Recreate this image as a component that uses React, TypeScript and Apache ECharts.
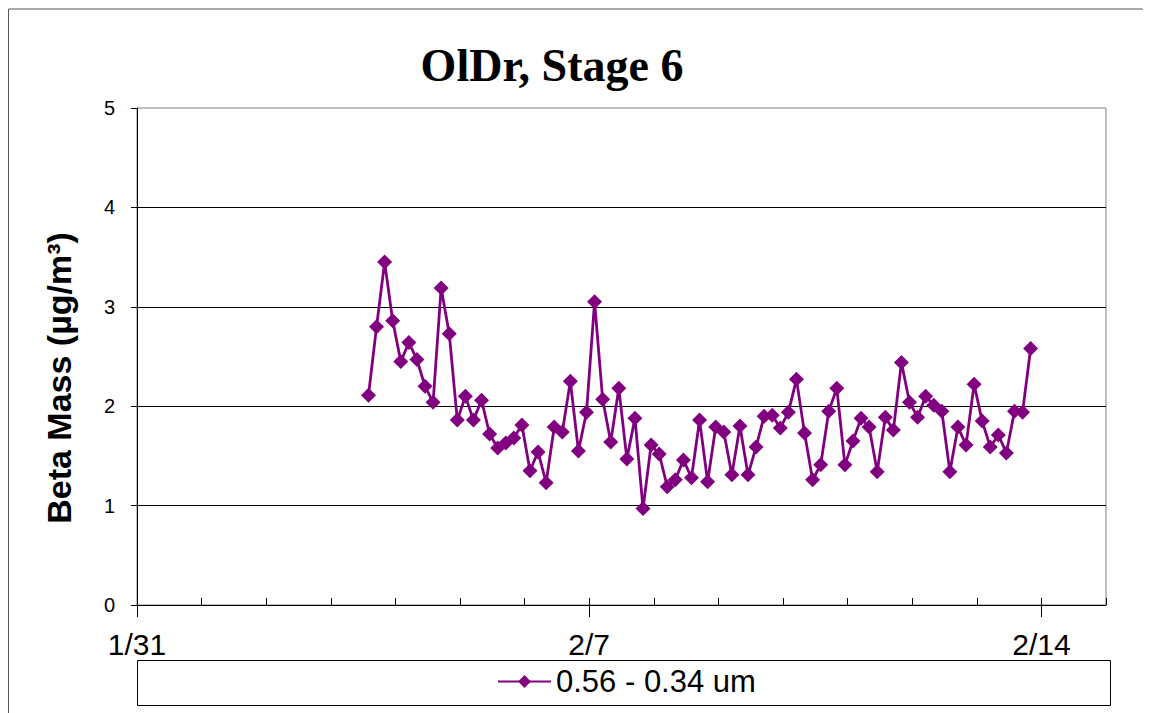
import React, { useEffect, useRef } from "react";
import * as echarts from "echarts";

// Beta mass readings, one every 3 hours, starting 2/3 14:00
const SERIES_NAME = "0.56 - 0.34 um";
const START_DAY_OFFSET = 3 + 14 / 24; // days after 1/31 00:00
const STEP_DAYS = 3 / 24;
const BETA_MASS = [
  2.11, 2.8, 3.45, 2.86, 2.45, 2.64, 2.47, 2.2, 2.04, 3.19,
  2.73, 1.86, 2.1, 1.86, 2.06, 1.72, 1.58, 1.63, 1.68, 1.81,
  1.35, 1.54, 1.23, 1.79, 1.74, 2.25, 1.55, 1.94, 3.05, 2.07,
  1.64, 2.18, 1.47, 1.88, 0.97, 1.61, 1.52, 1.19, 1.26, 1.46,
  1.28, 1.86, 1.24, 1.79, 1.74, 1.31, 1.8, 1.31, 1.59, 1.9,
  1.91, 1.78, 1.94, 2.27, 1.73, 1.26, 1.41, 1.95, 2.18, 1.41,
  1.65, 1.88, 1.79, 1.34, 1.89, 1.76, 2.44, 2.04, 1.89, 2.1,
  2.01, 1.95, 1.34, 1.79, 1.61, 2.22, 1.85, 1.59, 1.71, 1.53,
  1.95, 1.94, 2.58,
];

// Date axis: days after 1/31
const X_MIN = 0;
const X_MAX = 15;
const X_MAJOR_DAYS = [0, 7, 14];
const X_MAJOR_LABELS = ["1/31", "2/7", "2/14"];

const Y_MIN = 0;
const Y_MAX = 5;
const Y_STEP = 1;

const TITLE = "OlDr, Stage 6";
const Y_TITLE = "Beta Mass (µg/m³)";

const W = 1143;
const H = 705;

export default function App() {
  const ref = useRef<HTMLDivElement>(null);

  useEffect(() => {
    if (!ref.current) return;
    const chart = echarts.init(ref.current, undefined, { renderer: "svg" });

    const points = BETA_MASS.map((v, i) => [START_DAY_OFFSET + i * STEP_DAYS, v]);
    const sans = "'Liberation Sans', Arial, sans-serif";

    chart.setOption({
      animation: false,
      backgroundColor: "#ffffff",
      title: {
        text: TITLE,
        left: 539,
        top: 29,
        textAlign: "center",
        textStyle: {
          fontFamily: "'Liberation Serif', 'Times New Roman', serif",
          fontWeight: "bold",
          fontSize: 46,
          color: "#000",
        },
      },
      grid: {
        left: 129,
        top: 100,
        right: 45,
        bottom: 108,
        show: true,
        borderColor: "#808080",
        borderWidth: 1,
        containLabel: false,
      },
      legend: {
        left: 489,
        top: 658,
        padding: 0,
        itemWidth: 53,
        itemHeight: 16,
        itemGap: 5,
        textStyle: { fontFamily: sans, fontSize: 31, color: "#000", lineHeight: 30 },
        data: [SERIES_NAME],
      },
      xAxis: [
        {
          type: "value",
          min: X_MIN,
          max: X_MAX,
          interval: 1,
          axisLine: { show: true, lineStyle: { color: "#000", width: 1 } },
          axisTick: { show: true, inside: true, length: 7, lineStyle: { color: "#000" } },
          splitLine: { show: false },
          axisLabel: {
            margin: 24,
            fontFamily: sans,
            fontSize: 30,
            color: "#000",
            formatter: (v: number) => {
              const idx = X_MAJOR_DAYS.indexOf(Math.round(v));
              return idx >= 0 && Math.abs(v - X_MAJOR_DAYS[idx]) < 1e-6 ? X_MAJOR_LABELS[idx] : "";
            },
          },
        },
        {
          type: "value",
          position: "bottom",
          min: X_MIN,
          max: X_MAX,
          interval: 7,
          axisLine: { show: false },
          axisTick: {
            show: true,
            inside: false,
            length: 12,
            customValues: X_MAJOR_DAYS,
            lineStyle: { color: "#000" },
          },
          axisLabel: { show: false },
          splitLine: { show: false },
        },
      ],
      yAxis: {
        type: "value",
        min: Y_MIN,
        max: Y_MAX,
        interval: Y_STEP,
        axisLine: { show: true, lineStyle: { color: "#000", width: 1 } },
        axisTick: { show: true, inside: false, length: 6, lineStyle: { color: "#000" } },
        splitLine: {
          show: true,
          showMinLine: false,
          showMaxLine: false,
          lineStyle: { color: "#000", width: 1 },
        },
        axisLabel: { margin: 22, fontFamily: sans, fontSize: 20, color: "#000" },
      },
      series: [
        {
          name: SERIES_NAME,
          type: "line",
          xAxisIndex: 0,
          data: points,
          symbol: "diamond",
          symbolSize: 15,
          color: "#800080",
          lineStyle: { color: "#800080", width: 2.8 },
          itemStyle: { color: "#800080" },
        },
      ],
      graphic: [
        // outer chart frame (top and left edges)
        { type: "line", shape: { x1: 0.5, y1: 1, x2: W, y2: 1 }, style: { stroke: "#555", lineWidth: 1 } },
        { type: "line", shape: { x1: 0.5, y1: 1, x2: 0.5, y2: H }, style: { stroke: "#555", lineWidth: 1 } },
        // legend frame
        {
          type: "rect",
          shape: { x: 129.5, y: 652.5, width: 973, height: 45 },
          style: { fill: "none", stroke: "#000", lineWidth: 1 },
          z: 0,
        },
        {
          type: "text",
          x: 51,
          y: 370,
          rotation: Math.PI / 2,
          style: {
            text: Y_TITLE,
            fontFamily: sans,
            fontWeight: "bold",
            fontSize: 34,
            fill: "#000",
            align: "center",
            verticalAlign: "middle",
          },
        },
      ],
    });

    return () => chart.dispose();
  }, []);

  return <div ref={ref} style={{ width: W, height: H }} />;
}
